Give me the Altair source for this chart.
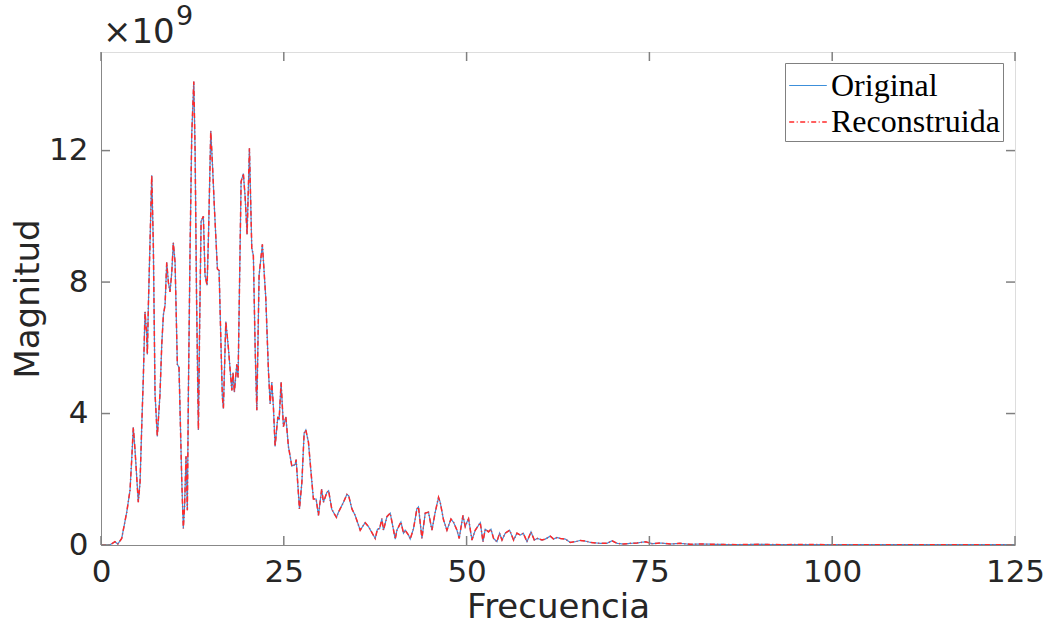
import altair as alt
import pandas as pd

# Frecuencia (Hz) and Magnitud (x10^9)
freq = [0, 1.2, 1.9, 2.3, 2.83, 3.52, 3.97, 4.2, 4.42, 4.65, 5.1, 5.34, 5.57, 5.79, 6.02, 6.25, 6.34, 6.47,
        6.94, 7.16, 7.39, 7.7, 8.07, 8.31, 8.53, 8.76, 8.99, 9.21, 9.44, 9.68, 9.89, 10.13, 10.44, 10.67,
        11.04, 11.26, 11.43, 11.63, 11.81, 11.95, 12.18, 12.41, 12.69, 12.87, 13.07, 13.32, 13.48, 13.69,
        14.0, 14.23, 14.51, 14.71, 15.01, 15.26, 15.51, 15.92, 16.15, 16.42, 16.6, 16.74, 17.07, 17.42,
        17.89, 18.06, 18.24, 18.57, 18.75, 18.95, 19.16, 19.47, 19.71, 19.98, 20.3, 20.62, 20.84, 21.08,
        21.31, 21.62, 22.07, 22.54, 22.9, 23.13, 23.36, 23.58, 23.81, 24.18, 24.36, 24.63, 24.95, 25.28,
        25.63, 26.1, 26.55, 26.69, 27.14, 27.47, 27.78, 28.01, 28.37, 28.7, 29.05, 29.42, 29.74, 30.18,
        30.42, 30.89, 31.13, 31.57, 32.2, 32.48, 33.16, 33.63, 33.87, 34.31, 34.76, 35.45, 36.13, 36.58,
        37.5, 37.81, 38.11, 38.41, 38.63, 39.1, 39.55, 39.82, 40.24, 40.47, 41.02, 41.37, 41.6, 42.06,
        42.29, 42.74, 43.2, 43.42, 43.89, 44.34, 44.79, 45.26, 45.71, 46.16, 46.39, 46.85, 47.31, 47.86,
        48.24, 48.68, 48.99, 49.5, 49.81, 50.05, 50.27, 50.73, 51.18, 51.87, 52.24, 52.55, 53.0, 53.33,
        53.69, 54.15, 54.51, 54.84, 55.29, 55.88, 56.43, 56.89, 57.34, 57.75, 58.26, 58.81, 59.26, 59.71,
        60.31, 60.76, 61.45, 61.9, 62.37, 62.82, 63.5, 64.18, 64.87, 65.55, 66.24, 66.92, 68.29, 69.21,
        69.89, 70.58, 71.44, 72.4, 73.31, 74.45, 75.4, 76.5, 77.9, 79.2, 80.6, 82.0, 84.0, 87.0, 90.0,
        93.0, 96.0, 100.0, 104.0, 108.0, 112.0, 116.0, 120.0, 125.0]
mag = [0, 0, 0.1, 0.03, 0.2, 1.0, 1.67, 2.6, 3.58, 2.9, 1.3, 1.9, 3.6, 5.1, 7.1, 6.4, 5.8, 7.2,
       11.25, 9.1, 4.6, 3.3, 4.6, 6.1, 7.0, 7.3, 8.6, 8.0, 7.7, 8.3, 9.2, 8.6, 5.5, 5.4,
       2.0, 0.5, 1.2, 2.7, 1.06, 4.6, 9.0, 12.5, 14.1, 12.0, 7.5, 3.5, 6.5, 9.85,
       10.0, 8.2, 7.9, 9.5, 12.6, 11.5, 10.25, 8.4, 8.35, 6.0, 4.5, 4.15, 6.8, 6.0,
       4.7, 5.25, 4.65, 5.5, 5.1, 8.0, 11.06, 11.3, 10.6, 9.45, 12.07, 9.04, 8.8, 6.0,
       4.1, 8.2, 9.15, 7.5, 5.3, 4.3, 4.95, 4.2, 3.0, 3.9, 3.8, 4.95, 3.6, 3.9,
       3.0, 2.4, 2.45, 2.6, 1.1, 1.9, 3.4, 3.5, 3.13, 2.27, 1.4, 1.4, 0.9, 1.7,
       1.3, 1.6, 1.65, 1.08, 0.84, 1.0, 1.3, 1.54, 1.5, 1.1, 0.9, 0.45, 0.68, 0.56,
       0.2, 0.48, 0.5, 0.8, 0.45, 0.86, 0.97, 0.67, 0.18, 0.45, 0.7, 0.36, 0.45, 0.3,
       0.18, 0.5, 1.1, 1.16, 0.2, 0.97, 1.0, 0.45, 1.0, 1.45, 1.3, 0.76, 0.45, 0.79,
       0.68, 0.45, 0.2, 0.9, 0.56, 0.7, 0.8, 0.15, 0.45, 0.68, 0.1, 0.48, 0.4, 0.48,
       0.2, 0.1, 0.36, 0.15, 0.36, 0.45, 0.15, 0.36, 0.3, 0.36, 0.1, 0.4, 0.15, 0.2,
       0.15, 0.18, 0.27, 0.18, 0.23, 0.2, 0.18, 0.08, 0.1, 0.14, 0.12, 0.08, 0.05, 0.05,
       0.13, 0.05, 0.03, 0.05, 0.06, 0.1, 0.04, 0.06, 0.03, 0.05, 0.02, 0.03, 0.02, 0.01, 0.02,
       0.01, 0.015, 0.01, 0.01, 0.01, 0.01, 0.01, 0.01, 0.01]

series = ["Original", "Reconstruida"]
x_ticks = [0, 25, 50, 75, 100, 125]
y_ticks = [0, 4, 8, 12]

W, H = 914, 493
GREY = "#808080"
TXT = "#262626"

rows = []
for s in series:
    for f, m in zip(freq, mag):
        rows.append({"Frecuencia": f, "Magnitud": m, "Serie": s})
df = pd.DataFrame(rows)

xscale = alt.Scale(domain=[0, 125], nice=False, zero=False)
yscale = alt.Scale(domain=[0, 15], nice=False)

common_axis = dict(ticks=False, grid=False, labelFontSize=31, labelFont="DejaVu Sans",
                   titleFont="DejaVu Sans", titleFontSize=34, titleFontWeight="normal",
                   labelColor=TXT, titleColor=TXT, format="d")
xaxis = alt.Axis(values=x_ticks, labelPadding=12, title="Frecuencia", titlePadding=3,
                 labelFlush=False, **common_axis)
yaxis = alt.Axis(values=y_ticks, labelPadding=13, title="Magnitud", titlePadding=3,
                 **common_axis)

legend = alt.Legend(
    title=None, orient="none", legendX=684, legendY=11,
    symbolType="stroke", symbolSize=1414, symbolStrokeWidth=1.3,
    labelFont="Liberation Serif", labelFontSize=32, labelColor="black", labelLimit=0,
    labelOffset=3, padding=3, rowPadding=-2,
    strokeColor=GREY, fillColor="white",
)

lines = alt.Chart(df).mark_line(clip=True).encode(
    x=alt.X("Frecuencia:Q", scale=xscale, axis=xaxis),
    y=alt.Y("Magnitud:Q", scale=yscale, axis=yaxis),
    color=alt.Color("Serie:N", scale=alt.Scale(domain=series, range=["#3C8FDA", "#FF2A2A"]),
                    legend=legend),
    strokeDash=alt.StrokeDash("Serie:N",
                              scale=alt.Scale(domain=series, range=[[1, 0], [5, 2.5, 1, 2.5]]),
                              legend=legend),
    strokeWidth=alt.StrokeWidth("Serie:N",
                                scale=alt.Scale(domain=series, range=[1.2, 1.5]),
                                legend=None),
)

xt = pd.DataFrame({"Frecuencia": x_ticks})
yt = pd.DataFrame({"Magnitud": y_ticks})
tick_style = dict(color=GREY, strokeWidth=1.5)

xb = alt.Chart(xt).mark_rule(**tick_style).encode(
    x=alt.X("Frecuencia:Q", scale=xscale, axis=xaxis), y=alt.value(H), y2=alt.value(H - 9))
xtop = alt.Chart(xt).mark_rule(**tick_style).encode(
    x=alt.X("Frecuencia:Q", scale=xscale, axis=xaxis), y=alt.value(0), y2=alt.value(9))
yl = alt.Chart(yt).mark_rule(**tick_style).encode(
    y=alt.Y("Magnitud:Q", scale=yscale, axis=yaxis), x=alt.value(0), x2=alt.value(9))
yr = alt.Chart(yt).mark_rule(**tick_style).encode(
    y=alt.Y("Magnitud:Q", scale=yscale, axis=yaxis), x=alt.value(W), x2=alt.value(W - 9))

exp_base = alt.Chart(pd.DataFrame({"t": ["×10"]})).mark_text(
    align="left", baseline="alphabetic", font="DejaVu Sans", fontSize=34, color=TXT
).encode(x=alt.value(2), y=alt.value(-9), text="t:N")
exp_sup = alt.Chart(pd.DataFrame({"t": ["9"]})).mark_text(
    align="left", baseline="alphabetic", font="DejaVu Sans", fontSize=27, color=TXT
).encode(x=alt.value(75), y=alt.value(-27), text="t:N")

chart = alt.layer(lines, xb, xtop, yl, yr, exp_base, exp_sup).properties(
    width=W, height=H,
    autosize=alt.AutoSizeParams(type="none"),
    padding={"left": 101, "top": 52, "right": 39, "bottom": 88},
).configure_view(stroke=GREY, strokeWidth=1.5).configure_axis(
    domainColor=GREY, domainWidth=1.5,
).configure(background="white")

chart.save("out.html", embed_options={"renderer": "svg", "actions": False})
